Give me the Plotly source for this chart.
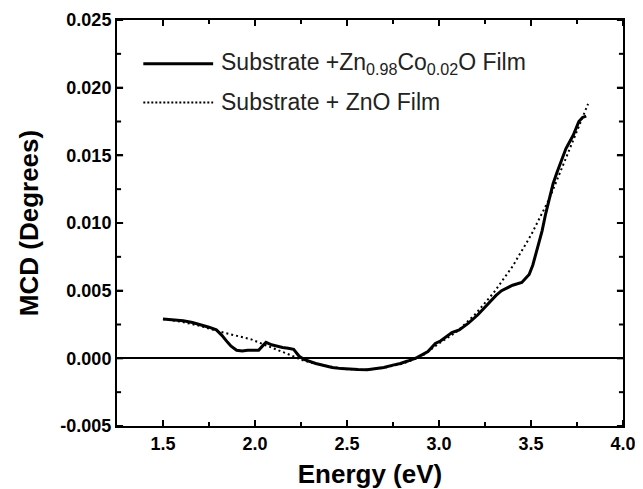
import plotly.graph_objects as go

# Substrate + Zn0.98Co0.02O film (solid)
energy_film = [1.50, 1.56, 1.61, 1.66, 1.70, 1.75, 1.79, 1.82, 1.85, 1.87, 1.90, 1.93,
               1.96, 1.99, 2.02, 2.04, 2.06, 2.09, 2.12, 2.15, 2.18, 2.21, 2.24, 2.27,
               2.33, 2.38, 2.42, 2.47, 2.51, 2.56, 2.61, 2.66, 2.70, 2.75, 2.79, 2.83,
               2.88, 2.94, 2.98, 3.01, 3.07, 3.11, 3.16, 3.21, 3.25, 3.31, 3.34, 3.40,
               3.45, 3.49, 3.51, 3.53, 3.56, 3.58, 3.60, 3.62, 3.64, 3.66, 3.69, 3.73,
               3.76, 3.78, 3.80]
mcd_film = [0.0029, 0.00285, 0.00277, 0.00265, 0.0025, 0.0023, 0.0021, 0.0017, 0.0012, 0.0009,
            0.0006, 0.00055, 0.0006, 0.00058, 0.0006, 0.0009, 0.00118, 0.0010, 0.00088, 0.0008,
            0.00075, 0.00066, 0.00015, -0.0001, -0.00038, -0.00055, -0.00068, -0.00076, -0.0008,
            -0.00083, -0.00084, -0.00078, -0.00068, -0.0005, -0.00038, -0.0002, 0.00005, 0.0005,
            0.0011, 0.0013, 0.0019, 0.0021, 0.0026, 0.0032, 0.0038, 0.00465, 0.0050, 0.0054,
            0.0056, 0.0062, 0.0069, 0.0079, 0.0094, 0.0107, 0.0119, 0.0129, 0.0137, 0.0144,
            0.0155, 0.0165, 0.0175, 0.0178, 0.0179]

# Substrate + ZnO film (dotted)
energy_zno = [1.50, 1.60, 1.70, 1.80, 1.89, 1.98, 2.07, 2.15, 2.20, 2.25, 2.30, 2.40, 2.50,
              2.60, 2.70, 2.80, 2.90, 3.00, 3.10, 3.20, 3.30, 3.40, 3.50, 3.60, 3.70, 3.81]
mcd_zno = [0.0029, 0.0027, 0.0024, 0.0020, 0.0017, 0.0014, 0.0009, 0.0005, 0.0002, -0.0001,
           -0.0003, -0.0006, -0.0008, -0.00085, -0.0007, -0.0004, 0.0001, 0.0011, 0.0020,
           0.0033, 0.0049, 0.0068, 0.0091, 0.0118, 0.0152, 0.0188]

x_tick_vals = [1.5, 2.0, 2.5, 3.0, 3.5, 4.0]
x_tick_text = ["1.5", "2.0", "2.5", "3.0", "3.5", "4.0"]
x_minor_vals = [1.75, 2.25, 2.75, 3.25, 3.75]
y_tick_vals = [-0.005, 0.0, 0.005, 0.010, 0.015, 0.020, 0.025]
y_tick_text = ["-0.005", "0.000", "0.005", "0.010", "0.015", "0.020", "0.025"]
y_minor_vals = [-0.0025, 0.0025, 0.0075, 0.0125, 0.0175, 0.0225]
legend_labels = ["Substrate +Zn<sub>0.98</sub>Co<sub>0.02</sub>O Film",
                 "Substrate + ZnO Film"]
x_title = "Energy (eV)"
y_title = "MCD (Degrees)"

FONT = "Liberation Sans, Arial, sans-serif"
tickfont = dict(family=FONT, size=18, color="black", weight="bold")
titlefont = dict(family=FONT, size=26, color="black", weight="bold")

fig = go.Figure()
fig.add_trace(go.Scatter(x=energy_zno, y=mcd_zno, mode="lines",
                         line=dict(color="black", width=2, dash="2px,3px"),
                         showlegend=False))
fig.add_trace(go.Scatter(x=energy_film, y=mcd_film, mode="lines",
                         line=dict(color="black", width=3),
                         showlegend=False))

axis_common = dict(showline=True, linecolor="black", linewidth=2, mirror="ticks",
                   ticks="inside", ticklen=6, tickwidth=2, tickcolor="black",
                   showgrid=False, tickfont=tickfont, tickmode="array",
                   automargin=False, layer="above traces")

fig.update_xaxes(range=[1.25, 4.0], tickvals=x_tick_vals, ticktext=x_tick_text,
                 zeroline=False,
                 title=dict(text=x_title, font=titlefont, standoff=14),
                 **axis_common)
fig.update_yaxes(range=[-0.005, 0.025], tickvals=y_tick_vals, ticktext=y_tick_text,
                 zeroline=True, zerolinecolor="black", zerolinewidth=2,
                 title=dict(text=y_title, font=titlefont, standoff=14),
                 **axis_common)

# inside tick marks on all four sides, placed on the axis scales (x/y refs)
PLOT_W, PLOT_H = 498, 398
MAJ, MIN = 6, 4
tick_line = dict(color="black", width=2)
for vals, ln in ((x_tick_vals, MAJ), (x_minor_vals, MIN)):
    for v in vals:
        for base, sign in ((0, 1), (1, -1)):
            fig.add_shape(type="line", xref="x", yref="paper", x0=v, x1=v,
                          y0=base, y1=base + sign * ln / PLOT_H,
                          line=tick_line, opacity=1, layer="above")
for vals, ln in ((y_tick_vals, MAJ), (y_minor_vals, MIN)):
    for v in vals:
        for base, sign in ((0, 1), (1, -1)):
            fig.add_shape(type="line", xref="paper", yref="y", y0=v, y1=v,
                          x0=base, x1=base + sign * ln / PLOT_W,
                          line=tick_line, opacity=1, layer="above")

# manual legend (long line samples as in the reference)
leg_y = [0.892, 0.797]
leg_dash = ["solid", "2px,2px"]
leg_w = [3, 2]
for i in range(2):
    fig.add_shape(type="line", xref="paper", yref="paper", x0=0.052, x1=0.19,
                  y0=leg_y[i], y1=leg_y[i], opacity=1,
                  line=dict(color="black", width=leg_w[i], dash=leg_dash[i]))
    fig.add_annotation(x=0.202, y=leg_y[i], xref="paper", yref="paper", text=legend_labels[i],
                       showarrow=False, xanchor="left", yanchor="middle",
                       font=dict(family=FONT, size=23, color="#222"))

# page body has an 8px default margin, so the figure is sized to fit the 643x489 window
fig.update_layout(template="simple_white", width=635, height=481,
                  plot_bgcolor="white", paper_bgcolor="white",
                  margin=dict(l=109, r=20, t=12, b=63), showlegend=False)

fig.write_html("out.html")
